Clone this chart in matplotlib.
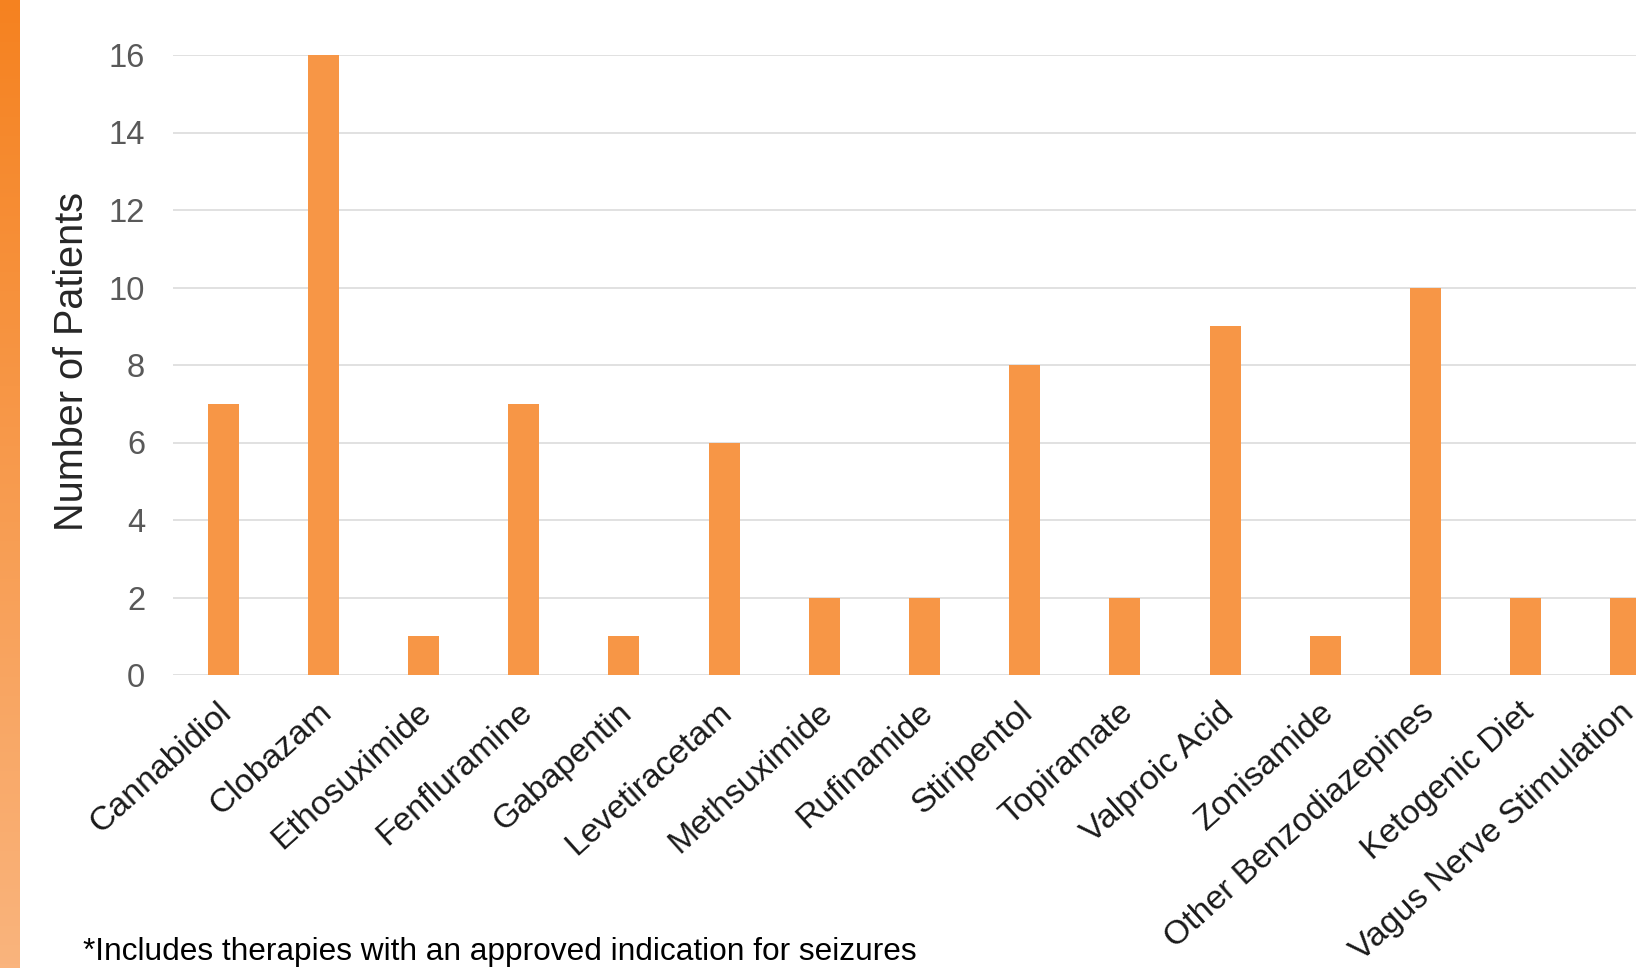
import numpy as np
import matplotlib.pyplot as plt
from matplotlib.transforms import ScaledTranslation

plt.rcParams['font.family'] = ['Liberation Sans', 'DejaVu Sans']

therapies = ['Cannabidiol', 'Clobazam', 'Ethosuximide', 'Fenfluramine', 'Gabapentin',
             'Levetiracetam', 'Methsuximide', 'Rufinamide', 'Stiripentol', 'Topiramate',
             'Valproic Acid', 'Zonisamide', 'Other Benzodiazepines', 'Ketogenic Diet',
             'Vagus Nerve Stimulation']
patients = [7, 16, 1, 7, 1, 6, 2, 2, 8, 2, 9, 1, 10, 2, 2]
y_ticks = [0, 2, 4, 6, 8, 10, 12, 14, 16]

W, H = 1636, 968
fig = plt.figure(figsize=(W / 100, H / 100), dpi=100)

# orange gradient strip on the left edge
strip = fig.add_axes([0, 0, 20 / W, 1])
grad = np.linspace(0, 1, 256).reshape(-1, 1)
top = np.array([245, 130, 32]) / 255
bot = np.array([250, 180, 125]) / 255
img = top + (bot - top) * grad[:, :, None]
strip.imshow(img, aspect='auto', extent=[0, 1, 0, 1])
strip.axis('off')

# axes run past the right edge, like the cropped original
ax = fig.add_axes([173 / W, 1 - 675 / H, 1503 / W, 620 / H])
x = np.arange(len(therapies))
ax.bar(x, patients, width=0.31, color='#F79646', zorder=3)
ax.set_xlim(-0.5, len(therapies) - 0.5)
ax.set_ylim(0, 16)
ax.set_yticks(y_ticks)
ax.grid(axis='y', color='#D9D9D9', linewidth=1.1, zorder=0)
for s in ax.spines.values():
    s.set_visible(False)

ax.tick_params(axis='y', length=0, pad=20, labelsize=23.5, labelcolor='#595959')
ax.tick_params(axis='x', length=0, pad=24, labelsize=24.3, labelcolor='#1A1A1A')
ax.set_xticks(x)
ax.set_xticklabels(therapies, rotation=42, ha='right', va='center', rotation_mode='anchor')
shift = ScaledTranslation(0.04, 0, fig.dpi_scale_trans)
for lbl in ax.get_xticklabels():
    lbl.set_transform(lbl.get_transform() + shift)

ax.set_ylabel('Number of Patients', fontsize=28.5, color='#262626')
ax.yaxis.set_label_coords(-0.0546, 0.505)

fig.text(83 / W, 1 - 960 / H, '*Includes therapies with an approved indication for seizures',
         fontsize=22.8, color='black', ha='left', va='baseline')

fig.savefig('out.png', dpi=100)
